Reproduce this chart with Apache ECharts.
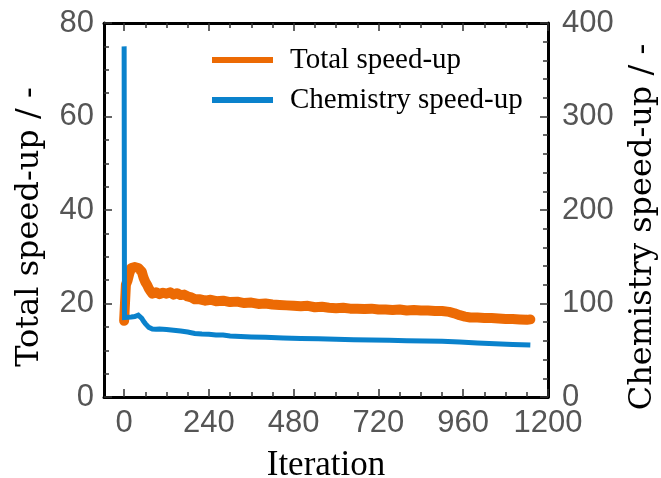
<!DOCTYPE html>
<html>
<head>
<meta charset="utf-8">
<script src="https://cdn.jsdelivr.net/npm/echarts@6/dist/echarts.min.js"></script>
<style>html,body{margin:0;padding:0;background:#fff;}#c{width:661px;height:478px;}</style>
</head>
<body>
<div id="c"></div>
<script>
// Tick labels
const xTickLabels = [0, 240, 480, 720, 960, 1200];
const xMinorTicks = [0,60,120,180,240,300,360,420,480,540,600,660,720,780,840,900,960,1020,1080,1140,1200];
const leftTickLabels = [0, 20, 40, 60, 80];
const rightTickLabels = [0, 100, 200, 300, 400];

// Total speed-up (left axis)
const totalIter = [0,2,5,10,15,20,25,30,35,40,45,50,55,60,65,70,75,80,90,100,110,120,130,140,150,160,170,180,190,200,215,230,245,260,280,300,320,340,360,380,400,420,440,460,480,500,520,540,560,580,600,620,640,660,680,700,720,740,760,780,800,820,840,860,880,900,920,935,950,965,980,1000,1020,1040,1060,1080,1100,1120,1140,1150];
const totalVal = [16.3,16.0,24.0,25.0,26.5,27.6,28.0,27.8,28.2,27.6,27.9,26.8,25.5,24.6,24.0,23.2,22.6,22.1,22.4,22.0,22.3,22.1,22.4,21.9,22.2,21.8,21.9,21.5,21.3,20.9,20.9,20.6,20.8,20.5,20.6,20.3,20.4,20.1,20.2,19.9,20.0,19.8,19.7,19.6,19.5,19.4,19.5,19.2,19.3,19.1,19.0,19.1,18.9,18.9,18.8,18.9,18.7,18.7,18.6,18.7,18.5,18.6,18.5,18.5,18.4,18.4,18.2,17.9,17.5,17.2,17.0,17.0,16.9,16.9,16.8,16.7,16.7,16.6,16.5,16.6];

// Chemistry speed-up (right axis)
const chemIter = [0,1,10,20,30,40,45,50,55,60,65,70,75,80,90,100,120,140,160,180,200,220,240,260,280,300,330,360,400,450,500,550,600,650,700,750,800,850,900,950,1000,1050,1100,1150];
const chemVal = [375,85,85.3,85.6,86,87.5,86.5,84,81,78.5,76.5,74.5,73.3,72.7,72.5,72.6,72.3,71.5,70.5,69.5,68.0,67.3,67.0,66.4,66.2,65.3,64.8,64.3,63.8,63.2,62.6,62.2,61.8,61.3,60.9,60.6,60.2,60.0,59.6,58.8,57.8,57.0,56.2,55.5];

const seriesNames = ['Total speed-up', 'Chemistry speed-up'];
const orange = '#EC6A04';
const blue = '#0A82CC';

const chart = echarts.init(document.getElementById('c'), null, {renderer: 'canvas'});
const tickFont = {fontFamily: '"Liberation Sans", Arial, sans-serif', fontSize: 31, color: '#555'};
const xNameFont = {fontFamily: '"Liberation Serif", "Times New Roman", serif', fontSize: 35, color: '#000'};
const yNameFont = {fontFamily: '"DejaVu Serif", serif', fontSize: 32, color: '#000', padding: [0, 34, 0, 0]};
const gridBox = {left: 104, right: 113, top: 23, bottom: 81, outerBoundsMode: 'none', containLabel: false};
const lineStyle = {color: '#000', width: 3};
const majorTick = {show: true, inside: true, length: 8, lineStyle: {color: '#333', width: 1.5}};
const minorTick = {show: true, inside: true, length: 5, lineStyle: {color: '#333', width: 1.5}};
const plain = v => String(v);

chart.setOption({
  animation: false,
  backgroundColor: '#fff',
  grid: [Object.assign({}, gridBox), Object.assign({}, gridBox)],
  legend: {
    data: seriesNames,
    orient: 'vertical',
    left: 212, top: 45,
    padding: 0,
    icon: 'rect',
    itemWidth: 61, itemHeight: 6,
    itemGap: 10,
    textStyle: {fontFamily: '"Liberation Serif", "Times New Roman", serif', fontSize: 29, color: '#000', lineHeight: 30, padding: [0,0,0,12]}
  },
  xAxis: [
    {type: 'value', gridIndex: 0, position: 'bottom', min: -57, max: 1200,
     name: 'Iteration', nameLocation: 'middle', nameGap: 51, nameTextStyle: xNameFont,
     axisLine: {show: true, onZero: false, lineStyle: lineStyle},
     axisTick: Object.assign({customValues: xTickLabels}, majorTick),
     axisLabel: Object.assign({customValues: xTickLabels, margin: 11, formatter: plain, hideOverlap: false}, tickFont),
     splitLine: {show: false}},
    {type: 'value', gridIndex: 0, position: 'top', min: -57, max: 1200,
     axisLine: {show: true, onZero: false, lineStyle: lineStyle},
     axisTick: Object.assign({customValues: xTickLabels}, majorTick),
     axisLabel: {show: false, customValues: xTickLabels},
     splitLine: {show: false}},
    {type: 'value', gridIndex: 1, position: 'bottom', min: -57, max: 1200,
     axisLine: {show: false, onZero: false},
     axisTick: Object.assign({customValues: xMinorTicks}, minorTick),
     axisLabel: {show: false, customValues: xMinorTicks},
     splitLine: {show: false}},
    {type: 'value', gridIndex: 1, position: 'top', min: -57, max: 1200,
     axisLine: {show: false, onZero: false},
     axisTick: Object.assign({customValues: xMinorTicks}, minorTick),
     axisLabel: {show: false, customValues: xMinorTicks},
     splitLine: {show: false}}
  ],
  yAxis: [
    {type: 'value', gridIndex: 0, position: 'left', min: leftTickLabels[0], max: leftTickLabels[leftTickLabels.length-1], interval: 20,
     name: 'Total speed-up / -', nameLocation: 'middle', nameGap: 58, nameTextStyle: yNameFont,
     axisLine: {show: true, onZero: false, lineStyle: lineStyle},
     axisTick: majorTick,
     minorTick: {show: true, splitNumber: 4, length: 5, lineStyle: {color: '#333', width: 1.5}},
     axisLabel: Object.assign({margin: 10, formatter: plain}, tickFont),
     splitLine: {show: false}, minorSplitLine: {show: false}},
    {type: 'value', gridIndex: 0, position: 'right', min: rightTickLabels[0], max: rightTickLabels[rightTickLabels.length-1], interval: 100,
     name: 'Chemistry speed-up / -', nameLocation: 'middle', nameGap: 79, nameTextStyle: yNameFont,
     axisLine: {show: true, onZero: false, lineStyle: lineStyle},
     axisTick: majorTick,
     minorTick: {show: true, splitNumber: 5, length: 5, lineStyle: {color: '#333', width: 1.5}},
     axisLabel: Object.assign({margin: 14, formatter: plain}, tickFont),
     splitLine: {show: false}, minorSplitLine: {show: false}},
    {type: 'value', gridIndex: 1, show: false, min: 0, max: 80}
  ],
  series: [
    {name: seriesNames[0], type: 'line', xAxisIndex: 0, yAxisIndex: 0,
     data: totalIter.map((x, i) => [x, totalVal[i]]),
     showSymbol: false, symbol: 'none',
     itemStyle: {color: orange},
     lineStyle: {color: orange, width: 10, cap: 'round', join: 'round'}},
    {name: seriesNames[1], type: 'line', xAxisIndex: 0, yAxisIndex: 1,
     data: chemIter.map((x, i) => [x, chemVal[i]]),
     showSymbol: false, symbol: 'none',
     itemStyle: {color: blue},
     lineStyle: {color: blue, width: 5, cap: 'butt', join: 'miter'}}
  ]
});
</script>
</body>
</html>
